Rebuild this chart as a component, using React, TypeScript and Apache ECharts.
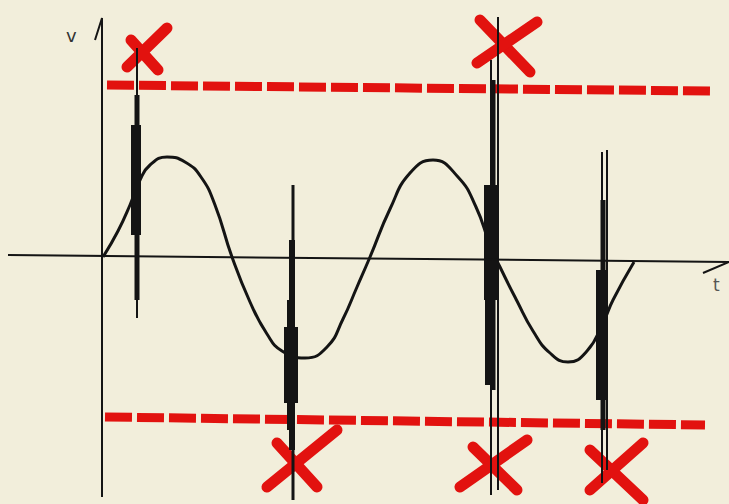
import React, { useEffect, useRef } from "react";
import * as echarts from "echarts";

// Units: t (time, arbitrary units), v (voltage, 1 = sine amplitude)
const wavePoints: [number, number][] = [
  [0, 0], [1.5, 0.26], [2.7, 0.52], [3.7, 0.77], [4.7, 0.92], [6.4, 1.0],
  [8.2, 0.95], [9.8, 0.8], [11.2, 0.52], [12.9, 0], [14.7, -0.45],
  [16.4, -0.77], [17.9, -0.94], [20.2, -1.01], [22.4, -0.9], [24.0, -0.62],
  [25.4, -0.3], [26.7, 0], [28.7, 0.48], [30.7, 0.84], [33.0, 0.97],
  [35.5, 0.8], [37.3, 0.5], [38.7, 0.12], [39.7, -0.1], [41.4, -0.44],
  [43.0, -0.74], [44.7, -0.96], [46.5, -1.05], [48.4, -0.94], [50.0, -0.66],
  [51.0, -0.43], [53.1, -0.05],
];

// Transient spikes: [t centre, v top, v bottom, half spread in t]
const spikes: [number, number, number, number][] = [
  [3.4, 2.09, -0.61, 0.1],
  [3.4, 1.62, -0.43, 0.25],
  [3.3, 1.32, 0.22, 0.5],
  [19.0, 0.72, -2.43, 0.15],
  [18.9, 0.17, -1.93, 0.3],
  [18.8, -0.43, -1.73, 0.4],
  [18.8, -0.7, -1.46, 0.7],
  [39.5, 2.4, -2.33, 0.1],
  [38.8, 1.97, -2.38, 0.1],
  [39.0, 1.77, -1.33, 0.25],
  [38.8, 0.72, -0.43, 0.7],
  [38.7, 0.07, -1.28, 0.5],
  [49.9, 1.05, -2.26, 0.1],
  [50.4, 1.07, -2.13, 0.1],
  [50.0, 0.57, -1.73, 0.25],
  [49.9, -0.13, -1.43, 0.6],
];

// Red cross strokes: [t1, v1, t2, v2]
const crossStrokes: [number, number, number, number][] = [
  [6.4, 2.29, 2.4, 1.9], [2.8, 2.17, 5.5, 1.87],
  [37.7, 2.37, 42.7, 1.85], [43.4, 2.35, 37.4, 1.94],
  [23.4, -1.73, 16.4, -2.3], [17.4, -1.86, 21.4, -2.3],
  [37.0, -1.9, 41.4, -2.33], [42.4, -1.83, 35.7, -2.3],
  [48.7, -1.93, 54.0, -2.43], [54.0, -1.86, 48.7, -2.33],
];

const limitUpper: [number, number][] = [[0.4, 1.72], [60.7, 1.66]];
const limitLower: [number, number][] = [[0.2, -1.6], [60.2, -1.68]];

const vAxis: [number, number][] = [[-0.1, -2.4], [-0.1, 2.39], [-0.8, 2.17]];
const tAxis: [number, number][] = [[-9.5, 0.02], [62.6, -0.05], [60.0, -0.16]];

const axisNames = ["v", "t"];

export default function App() {
  const ref = useRef<HTMLDivElement>(null);
  useEffect(() => {
    const chart = echarts.init(ref.current!, null, { renderer: "svg" });
    const ink = "#141414";
    const red = "#e2120f";
    chart.setOption({
      animation: false,
      backgroundColor: "#f2eedb",
      grid: { left: 0, right: 0, top: 0, bottom: 0 },
      xAxis: { type: "value", min: -10.3, max: 62.6, show: false },
      yAxis: { type: "value", min: -2.47, max: 2.57, show: false },
      graphic: [
        {
          type: "text",
          left: 66,
          top: 26,
          style: { text: axisNames[0], font: "18px 'DejaVu Sans', sans-serif", fill: "#333" },
        },
        {
          type: "text",
          left: 713,
          top: 276,
          style: { text: axisNames[1], font: "17px 'DejaVu Sans', sans-serif", fill: "#555" },
        },
      ],
      series: [
        {
          type: "line",
          data: limitUpper,
          showSymbol: false,
          lineStyle: { color: red, width: 9, type: [27, 5] },
          z: 1,
        },
        {
          type: "line",
          data: limitLower,
          showSymbol: false,
          lineStyle: { color: red, width: 9, type: [27, 5] },
          z: 1,
        },
        {
          type: "custom",
          data: crossStrokes,
          encode: { x: [0, 2], y: [1, 3] },
          z: 2,
          renderItem: (_p: any, api: any) => {
            const a = api.coord([api.value(0), api.value(1)]);
            const b = api.coord([api.value(2), api.value(3)]);
            return {
              type: "line",
              shape: { x1: a[0], y1: a[1], x2: b[0], y2: b[1] },
              style: { stroke: red, lineWidth: 11, lineCap: "round" },
            };
          },
        },
        {
          type: "line",
          data: wavePoints,
          smooth: 0.5,
          showSymbol: false,
          lineStyle: { color: ink, width: 3 },
          z: 3,
        },
        {
          type: "custom",
          data: spikes,
          encode: { x: 0, y: [1, 2] },
          z: 4,
          renderItem: (_p: any, api: any) => {
            const t = api.value(0);
            const hw = api.value(3);
            const a = api.coord([t - hw, api.value(1)]);
            const b = api.coord([t + hw, api.value(2)]);
            return {
              type: "rect",
              shape: { x: a[0], y: a[1], width: Math.max(1.5, b[0] - a[0]), height: b[1] - a[1] },
              style: { fill: ink },
            };
          },
        },
        {
          type: "line",
          data: vAxis,
          showSymbol: false,
          lineStyle: { color: ink, width: 2 },
          z: 5,
        },
        {
          type: "line",
          data: tAxis,
          showSymbol: false,
          lineStyle: { color: ink, width: 2 },
          z: 5,
        },
      ],
    });
    return () => chart.dispose();
  }, []);
  return (
    <div
      ref={ref}
      style={{ position: "absolute", left: 0, top: 0, width: 729, height: 504 }}
    />
  );
}
